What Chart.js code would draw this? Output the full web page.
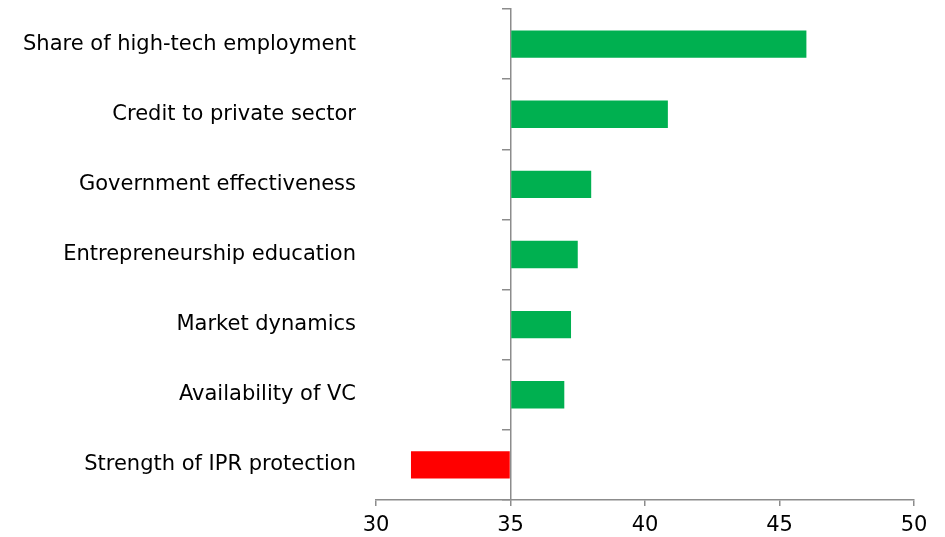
<!DOCTYPE html>
<html>
<head>
<meta charset="utf-8">
<script src="https://cdn.jsdelivr.net/npm/chart.js@4"></script>
<style>
  html, body { margin: 0; padding: 0; background: #fff; }
  #wrap { width: 945px; height: 537px; }
</style>
</head>
<body>
<div id="wrap"><canvas id="drivers"></canvas></div>
<script>
const categories = [
  'Share of high-tech employment',
  'Credit to private sector',
  'Government effectiveness',
  'Entrepreneurship education',
  'Market dynamics',
  'Availability of VC',
  'Strength of IPR protection'
];
const scores = [46.0, 40.85, 38.0, 37.5, 37.25, 37.0, 31.3];
const baseline = 35;
const xTicks = [30, 35, 40, 45, 50];

const axisGrey = '#8c8c8c';
const labelFont = { family: 'Tahoma, "DejaVu Sans", sans-serif', size: 21 };

// keep the plot box where the reference has it (labels may overhang)
function noEdgePad(s) { s.paddingTop = 0; s.paddingBottom = 0; }

try {
  const ctx = document.getElementById('drivers').getContext('2d');
  const data = {
    labels: categories,
    datasets: [{
      label: 'Score',
      data: scores,
      base: baseline,
      backgroundColor: scores.map(v => v < baseline ? '#ff0000' : '#00b050'),
      categoryPercentage: 1,
      barPercentage: 0.39,
      yAxisID: 'y'
    }]
  };
  new Chart(ctx, {
    type: 'bar',
    data: data,
    options: {
      indexAxis: 'y',
      responsive: true,
      maintainAspectRatio: false,
      animation: false,
      layout: { padding: { top: 9, right: 31, left: 0, bottom: 0 } },
      plugins: { legend: { display: false }, tooltip: { enabled: false } },
      scales: {
        x: {
          type: 'linear',
          min: xTicks[0],
          max: xTicks[xTicks.length - 1],
          afterBuildTicks: s => { s.ticks = xTicks.map(v => ({ value: v })); },
          afterFit: s => { s.height = 37; s.paddingLeft = 0; s.paddingRight = 0; },
          border: { color: axisGrey, width: 1.5 },
          grid: { drawOnChartArea: false, color: axisGrey, tickLength: 6, lineWidth: 1.5 },
          ticks: { color: '#000', font: labelFont, padding: 7 }
        },
        y: {
          position: 'left',
          afterFit: s => { s.width = 376; noEdgePad(s); },
          border: { display: false },
          grid: { display: false },
          ticks: { color: '#000', font: labelFont, padding: 12 }
        },
        yAxisLine: {
          type: 'category',
          axis: 'y',
          labels: categories,
          position: { x: baseline },
          offset: true,
          afterFit: noEdgePad,
          border: { color: axisGrey, width: 1.5 },
          grid: { offset: true, drawOnChartArea: false, color: axisGrey, tickLength: 8, lineWidth: 1.5 },
          ticks: { display: false }
        }
      }
    }
  });
} catch (e) {
  console.log('chart error', e);
}
</script>
</body>
</html>
